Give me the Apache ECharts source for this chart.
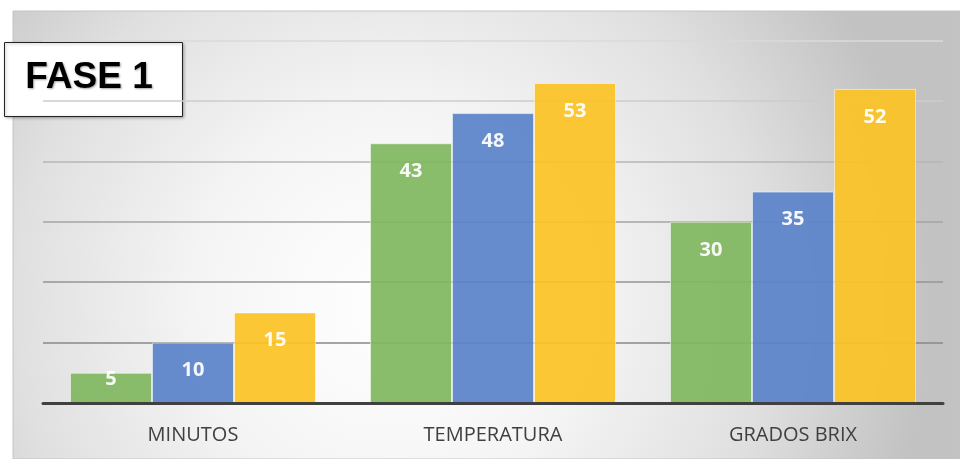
<!DOCTYPE html>
<html>
<head>
<meta charset="utf-8">
<script src="https://cdn.jsdelivr.net/npm/echarts@6/dist/echarts.min.js"></script>
<style>
  html, body { margin: 0; padding: 0; background: #fff; }
  #chart { width: 960px; height: 459px; }
</style>
</head>
<body>
<div id="chart"></div>
<script>
// Data
const categories = ['MINUTOS', 'TEMPERATURA', 'GRADOS BRIX'];
const seriesGreen = [5, 43, 30];
const seriesBlue = [10, 48, 35];
const seriesYellow = [15, 53, 52];
const yTicks = [0, 10, 20, 30, 40, 50, 60];

const colors = ['#80b760', '#5b83c9', '#fbc325'];

const chart = echarts.init(document.getElementById('chart'));

// short bars: Excel pushes the label up so it still fits
const makeSeries = (data, color) => ({
  type: 'bar',
  barGap: '0%',
  barCategoryGap: '18%',
  data: data.map(v => ({
    value: v,
    label: v < 8 ? { distance: -4 } : undefined
  })),
  itemStyle: {
    color: color,
    opacity: 0.93,
    borderColor: 'rgba(255,255,255,0.55)',
    borderWidth: 1
  },
  label: {
    show: true,
    position: 'insideTop',
    distance: 18,
    color: '#ffffff',
    fontFamily: 'Open Sans',
    fontWeight: 'bold',
    fontSize: 20
  }
});

const option = {
  animation: false,
  graphic: [
    {
      type: 'rect',
      z: -10,
      shape: { x: 13, y: 11, width: 947, height: 448 },
      style: {
        fill: {
          type: 'radial', x: 0.4, y: 0.65, r: 1.2,
          colorStops: [
            { offset: 0, color: '#ffffff' },
            { offset: 0.35, color: '#f5f5f5' },
            { offset: 0.7, color: '#e0e0e0' },
            { offset: 1, color: '#c2c2c2' }
          ]
        },
        stroke: '#c4c4c4',
        lineWidth: 1
      }
    },
    {
      type: 'group',
      z: 100,
      children: [
        {
          type: 'rect',
          shape: { x: 4.5, y: 42.5, width: 178, height: 74 },
          style: {
            fill: '#ffffff',
            stroke: '#222222',
            lineWidth: 1,
            shadowBlur: 3,
            shadowColor: 'rgba(0,0,0,0.3)',
            shadowOffsetX: 1,
            shadowOffsetY: 1
          }
        },
        {
          type: 'text',
          x: 89,
          y: 78,
          style: {
            text: 'FASE 1',
            fill: '#000000',
            font: 'bold 37px "Liberation Sans", Arial, sans-serif',
            align: 'center',
            verticalAlign: 'middle',
            textShadowBlur: 2,
            textShadowColor: 'rgba(0,0,0,0.35)',
            textShadowOffsetX: 1,
            textShadowOffsetY: 1
          }
        }
      ]
    }
  ],
  grid: {
    left: 43,
    right: 17,
    top: 40.6,
    bottom: 56
  },
  xAxis: {
    type: 'category',
    data: categories,
    axisLine: { lineStyle: { color: '#404040', width: 3 } },
    axisTick: { show: false },
    axisLabel: {
      color: '#404040',
      fontFamily: 'Open Sans',
      fontSize: 20,
      margin: 22
    },
    z: 10
  },
  yAxis: {
    type: 'value',
    min: yTicks[0],
    max: yTicks[yTicks.length - 1],
    interval: 10,
    axisLabel: { show: false },
    axisLine: { show: false },
    axisTick: { show: false },
    splitLine: {
      lineStyle: {
        color: ['#888888', '#888888', '#959595', '#a4a4a4', '#b6b6b6', '#cdcdcd', '#dadada'],
        width: 1.5
      }
    }
  },
  series: [
    makeSeries(seriesGreen, colors[0]),
    makeSeries(seriesBlue, colors[1]),
    makeSeries(seriesYellow, colors[2])
  ]
};

chart.setOption(option);
window.addEventListener('resize', () => chart.resize());
</script>
</body>
</html>
